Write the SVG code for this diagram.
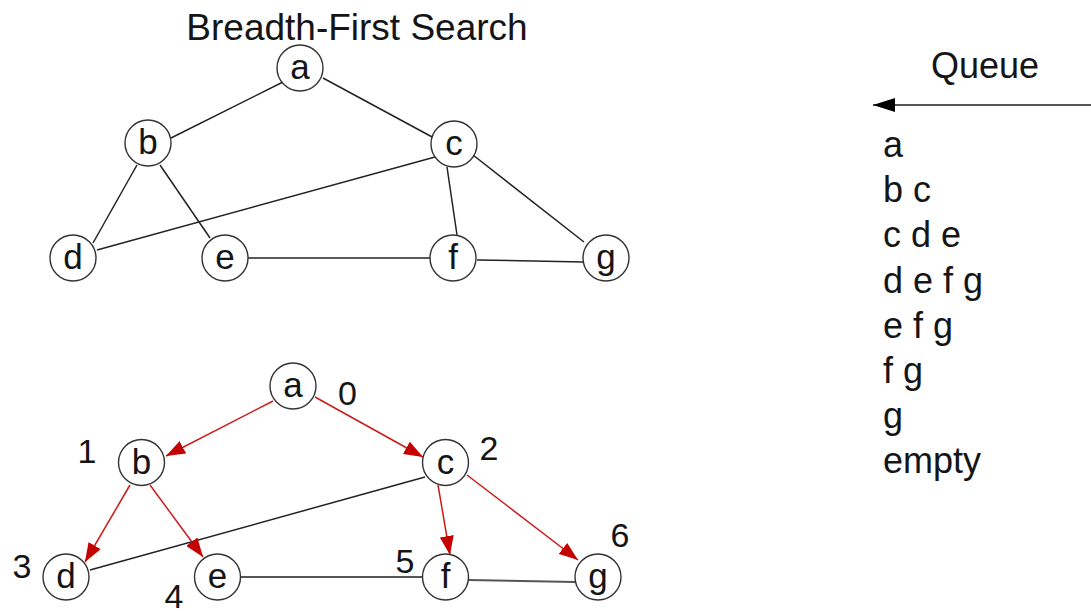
<svg xmlns="http://www.w3.org/2000/svg" width="1091" height="611" viewBox="0 0 1091 611">
  <style>
    text { font-family: "Liberation Sans", Arial, sans-serif; fill: #151515; }
    .title { font-size: 37px; text-anchor: middle; }
    .node circle { fill: #ffffff; stroke: #333333; stroke-width: 1.4; }
    .node text { font-size: 35px; text-anchor: middle; }
    .edge { stroke: #222222; stroke-width: 1.5; fill: none; }
    .edge.thick { stroke: #555555; stroke-width: 2; }
    .tree { stroke: #cc1a1a; stroke-width: 1.5; fill: none; marker-end: url(#redArrow); }
    .order { font-size: 34px; text-anchor: middle; }
    .queue { font-size: 36px; }
    .qarrow { stroke: #555555; stroke-width: 2; fill: none; marker-end: url(#blackArrow); }
  </style>
  <defs>
    <marker id="redArrow" viewBox="0 0 19 14" refX="19" refY="7" markerWidth="19" markerHeight="14" orient="auto" markerUnits="userSpaceOnUse">
      <path d="M0,0 L19,7 L0,14 z" fill="#c40000"/>
    </marker>
    <marker id="blackArrow" viewBox="0 0 22 14" refX="22" refY="7" markerWidth="22" markerHeight="14" orient="auto" markerUnits="userSpaceOnUse">
      <path d="M0,0 L22,7 L0,14 z" fill="#000000"/>
    </marker>
  </defs>

  <rect width="1091" height="611" fill="#ffffff"/>

  <text class="title" x="357" y="40">Breadth-First Search</text>

  <!-- upper graph: edges -->
  <g id="graph-edges">
    <line class="edge" x1="283" y1="82" x2="171" y2="138"/>
    <line class="edge" x1="323" y1="78" x2="434" y2="138"/>
    <line class="edge" x1="137" y1="165" x2="93" y2="243"/>
    <line class="edge" x1="160" y1="165" x2="210" y2="238"/>
    <line class="edge" x1="435" y1="157" x2="97" y2="250"/>
    <line class="edge" x1="447" y1="167" x2="457" y2="235"/>
    <line class="edge" x1="473" y1="155" x2="584" y2="242"/>
    <line class="edge" x1="248" y1="258" x2="430" y2="258"/>
    <line class="edge" x1="477" y1="260" x2="583" y2="262"/>
  </g>

  <!-- upper graph: nodes -->
  <g id="g1-a" class="node"><circle cx="300" cy="68" r="23"/><text x="300" y="79">a</text></g>
  <g id="g1-b" class="node"><circle cx="148" cy="143" r="23"/><text x="148" y="154">b</text></g>
  <g id="g1-c" class="node"><circle cx="454" cy="144" r="23"/><text x="454" y="155">c</text></g>
  <g id="g1-d" class="node"><circle cx="73" cy="258" r="23"/><text x="73" y="269">d</text></g>
  <g id="g1-e" class="node"><circle cx="225" cy="258" r="23"/><text x="225" y="269">e</text></g>
  <g id="g1-f" class="node"><circle cx="453" cy="258" r="23"/><text x="453" y="269">f</text></g>
  <g id="g1-g" class="node"><circle cx="606" cy="258" r="23"/><text x="606" y="269">g</text></g>

  <!-- lower graph: BFS tree edges (red) and remaining edges -->
  <g id="tree-edges">
    <line class="edge" x1="425" y1="477" x2="90" y2="570"/>
    <line class="edge thick" x1="240" y1="577" x2="423" y2="577"/>
    <line class="edge thick" x1="468" y1="580" x2="575" y2="582"/>
    <line class="tree" x1="273" y1="401" x2="166" y2="456"/>
    <line class="tree" x1="315" y1="397" x2="423" y2="457"/>
    <line class="tree" x1="130" y1="485" x2="85" y2="562"/>
    <line class="tree" x1="150" y1="485" x2="203" y2="557"/>
    <line class="tree" x1="438" y1="485" x2="450" y2="555"/>
    <line class="tree" x1="467" y1="475" x2="578" y2="560"/>
  </g>

  <!-- lower graph: nodes -->
  <g id="g2-a" class="node"><circle cx="293" cy="386" r="23"/><text x="293" y="397">a</text></g>
  <g id="g2-b" class="node"><circle cx="141.5" cy="462.5" r="23"/><text x="141.5" y="473.5">b</text></g>
  <g id="g2-c" class="node"><circle cx="445.5" cy="462.5" r="23"/><text x="445.5" y="473.5">c</text></g>
  <g id="g2-d" class="node"><circle cx="66" cy="577" r="23"/><text x="66" y="588">d</text></g>
  <g id="g2-e" class="node"><circle cx="217.5" cy="577" r="23"/><text x="217.5" y="588">e</text></g>
  <g id="g2-f" class="node"><circle cx="445.5" cy="577" r="23"/><text x="445.5" y="588">f</text></g>
  <g id="g2-g" class="node"><circle cx="598" cy="577" r="23"/><text x="598" y="588">g</text></g>

  <!-- visit order -->
  <g id="visit-order">
    <text class="order" x="347.5" y="405">0</text>
    <text class="order" x="87" y="463">1</text>
    <text class="order" x="489" y="460">2</text>
    <text class="order" x="22" y="578">3</text>
    <text class="order" x="174" y="608">4</text>
    <text class="order" x="405" y="573">5</text>
    <text class="order" x="620" y="547">6</text>
  </g>

  <!-- queue contents -->
  <g id="queue">
    <text class="queue" x="985" y="78" text-anchor="middle">Queue</text>
    <line class="qarrow" x1="1091" y1="105" x2="873" y2="105"/>
    <text class="queue" x="883" y="157">a</text>
    <text class="queue" x="883" y="202">b c</text>
    <text class="queue" x="883" y="247">c d e</text>
    <text class="queue" x="883" y="293">d e f g</text>
    <text class="queue" x="883" y="338">e f g</text>
    <text class="queue" x="883" y="383">f g</text>
    <text class="queue" x="883" y="428">g</text>
    <text class="queue" x="883" y="473">empty</text>
  </g>
</svg>
